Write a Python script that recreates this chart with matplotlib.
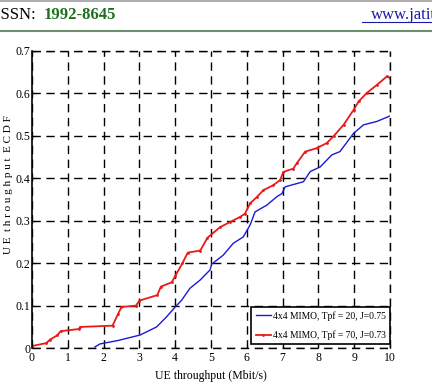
"""UE throughput ECDF figure"""
import matplotlib
matplotlib.use('Agg')
import matplotlib.pyplot as plt

plt.rcParams['font.family'] = ['Liberation Serif', 'DejaVu Serif']

# 4x4 MIMO, Tpf = 20 (blue)
x_tpf20 = [1.76, 1.9, 2.4, 3.02, 3.48, 3.76, 4.0, 4.18, 4.41, 4.69, 4.97, 5.02,
           5.34, 5.62, 5.90, 6.09, 6.23, 6.56, 6.84, 6.98, 7.07, 7.58, 7.77,
           8.05, 8.37, 8.60, 8.98, 9.26, 9.63, 10.0]
y_tpf20 = [0.003, 0.01, 0.018, 0.031, 0.05, 0.074, 0.097, 0.113, 0.141, 0.160,
           0.184, 0.198, 0.219, 0.247, 0.262, 0.29, 0.321, 0.337, 0.357, 0.364,
           0.380, 0.392, 0.416, 0.427, 0.455, 0.463, 0.506, 0.526, 0.534, 0.547]

# 4x4 MIMO, Tpf = 70 (red)
x_tpf70 = [0.0, 0.4, 0.5, 0.7, 0.8, 1.3, 1.35, 2.25, 2.4, 2.5, 2.9, 3.0, 3.5,
           3.6, 3.9, 4.0, 4.2, 4.35, 4.7, 4.9, 5.25, 5.53, 5.81, 5.95, 6.09,
           6.28, 6.46, 6.74, 6.93, 7.02, 7.30, 7.39, 7.63, 7.95, 8.23, 8.42,
           8.70, 8.98, 9.12, 9.35, 9.63, 9.91, 10.0]
y_tpf70 = [0.005, 0.012, 0.02, 0.03, 0.04, 0.045, 0.05, 0.053, 0.08, 0.097,
           0.10, 0.112, 0.125, 0.145, 0.155, 0.17, 0.2, 0.225, 0.23, 0.26,
           0.285, 0.297, 0.309, 0.317, 0.341, 0.356, 0.372, 0.384, 0.396,
           0.415, 0.423, 0.435, 0.463, 0.471, 0.483, 0.499, 0.526, 0.561,
           0.581, 0.601, 0.620, 0.640, 0.636]

label20 = '4x4 MIMO, Tpf = 20, J=0.75'
label70 = '4x4 MIMO, Tpf = 70, J=0.73'

fig = plt.figure(figsize=(4.32, 3.86), dpi=100)

# page header
fig.add_artist(plt.Line2D([0, 1], [0.997, 0.997], color='#a0a0a0', lw=1.2))
fig.add_artist(plt.Line2D([0, 1], [0.919, 0.919], color='#6e8f6e', lw=1.5))
fig.text(-0.012, 0.962, 'ISSN: ', fontsize=12, va='center', ha='left')
fig.text(0.1, 0.962, '1992-8645', fontsize=12, va='center', ha='left',
         color='#1f6e1f', fontweight='bold')
fig.text(1.01, 0.962, 'www.jatit', fontsize=12, va='center', ha='right',
         color='#1a1aa8')
fig.add_artist(plt.Line2D([0.838, 1.0], [0.944, 0.944], color='#1a1aa8', lw=0.8))

ax = fig.add_axes([0.074, 0.098, 0.829, 0.77])
ax.plot(x_tpf20, y_tpf20, color='#1a1ad6', lw=1.0, label=label20)
ax.plot(x_tpf70, y_tpf70, color='#e81a1a', lw=1.3, marker='.', markersize=2,
        label=label70)

ax.set_xlim(0, 10)
ax.set_ylim(0, 0.7)
ax.set_xticks(range(0, 11))
ax.set_yticks([0, 0.1, 0.2, 0.3, 0.4, 0.5, 0.6, 0.7])
ax.set_yticklabels(['0', '0.1', '0.2', '0.3', '0.4', '0.5', '0.6', '0.7'])
ax.tick_params(direction='in', labelsize=8.5, length=3)
ax.tick_params(axis='y', pad=1)
ax.tick_params(axis='x', pad=3)
ax.grid(True, linestyle=(0, (6, 4)), color='black', lw=1.0)
for s in ['top', 'right', 'bottom']:
    ax.spines[s].set_visible(False)
ax.spines['left'].set_linewidth(1.2)
# dashed border lines at the limits
ax.axhline(0.7, linestyle=(0, (6, 4)), color='black', lw=1.0, clip_on=False)
ax.axhline(0, linestyle=(0, (6, 4)), color='black', lw=1.0, clip_on=False)
ax.axvline(10, linestyle=(0, (6, 4)), color='black', lw=1.0, clip_on=False)

ax.set_xlabel('UE throughput (Mbit/s)', fontsize=8.5)
ax.xaxis.set_label_coords(0.5, -0.075)
ax.set_ylabel('U E  t h r o u g h p u t  E C D F', fontsize=8)
ax.yaxis.set_label_coords(-0.053, 0.55)

leg = ax.legend(loc='lower right', bbox_to_anchor=(1.0, 0.013), fontsize=6.9,
                frameon=True, fancybox=False, borderaxespad=0,
                handlelength=1.6, handletextpad=0.2, borderpad=0.45,
                labelspacing=1.0)
leg.get_frame().set_edgecolor('black')
leg.get_frame().set_linewidth(1.2)
leg.get_frame().set_alpha(1)

fig.savefig('out.png', dpi=100)
